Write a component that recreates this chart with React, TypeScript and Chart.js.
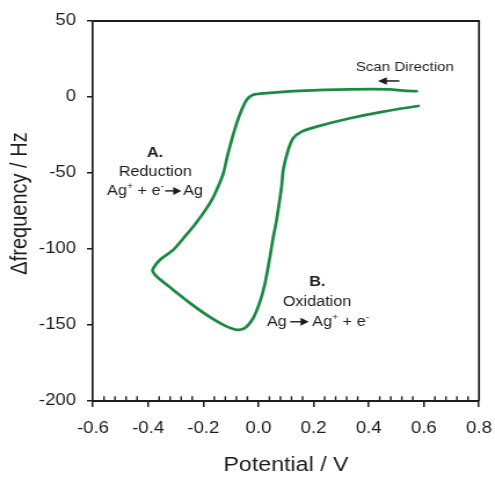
import React, { useEffect, useRef } from 'react';
import { Chart, registerables } from 'chart.js';

Chart.register(...registerables);

// ---- data ----
const potential = [
  0.574, 0.524, 0.477, 0.332, 0.151, 0.03, -0.019, -0.043, -0.061, -0.079, -0.097, -0.113,
  -0.127, -0.146, -0.169, -0.2, -0.236, -0.272, -0.309, -0.357, -0.381, -0.383, -0.369,
  -0.309, -0.248, -0.188, -0.127, -0.079, -0.049, -0.019, 0.006, 0.024, 0.042, 0.052,
  0.066, 0.084, 0.09, 0.108, 0.126, 0.157, 0.211, 0.332, 0.453, 0.58,
];
const frequency = [
  3.8, 4.2, 5.0, 5.0, 4.0, 2.5, 1.5, -1.9, -8.5, -17.3, -28.2, -39.2,
  -50.1, -58.9, -67.7, -76.4, -85.2, -92.9, -100.6, -107.1, -112.6, -114.8, -118.1,
  -126.9, -135.6, -143.3, -149.9, -153.2, -152, -145.5, -134.5, -122.5, -105, -94,
  -80.8, -58.9, -48, -34.8, -27.1, -22.8, -19.5, -14, -9.6, -5.9,
];
const xTickValues = [-0.6, -0.4, -0.2, 0, 0.2, 0.4, 0.6, 0.8];
const yTickValues = [-200, -150, -100, -50, 0, 50];
const xMinorPerMajor = 4;

const xTitle = 'Potential / V';
const yTitle = '\u0394frequency / Hz';

// ---- styling ----
const CSS_W = 495;
const CSS_H = 477;
const CANVAS_W = 427; // drawn narrower, then stretched horizontally like the reference
const FONT = '"Liberation Sans", Arial, Helvetica, sans-serif';
const INK = '#1c1c1c';
const GREEN = '#1a8a42';

type Seg = { t?: string; sup?: boolean; arrow?: number; gap?: number };

const annotations: { segs: Seg[]; x: number; y: number; size: number; bold?: boolean }[] = [
  { segs: [{ t: 'Scan Direction' }], x: 0.531, y: 17.1, size: 13 },
  { segs: [{ t: 'A.' }], x: -0.375, y: -39.6, size: 14, bold: true },
  { segs: [{ t: 'Reduction' }], x: -0.374, y: -51.9, size: 14 },
  {
    segs: [{ t: 'Ag' }, { t: '+', sup: true }, { t: ' + e' }, { t: '-', sup: true }, { gap: 1 }, { arrow: 14 }, { gap: 1.5 }, { t: 'Ag' }],
    x: -0.375, y: -64.4, size: 14,
  },
  { segs: [{ t: 'B.' }], x: 0.2136, y: -124.2, size: 14, bold: true },
  { segs: [{ t: 'Oxidation' }], x: 0.2125, y: -137.2, size: 14 },
  {
    segs: [{ t: 'Ag' }, { gap: 3 }, { arrow: 16 }, { gap: 3 }, { t: 'Ag' }, { t: '+', sup: true }, { t: ' + e' }, { t: '-', sup: true }],
    x: 0.216, y: -150.5, size: 14,
  },
];

function drawArrow(ctx: CanvasRenderingContext2D, x0: number, x1: number, y: number, head: number, half: number, lw: number) {
  const dir = Math.sign(x1 - x0);
  ctx.save();
  ctx.strokeStyle = INK;
  ctx.fillStyle = INK;
  ctx.lineWidth = lw;
  ctx.beginPath();
  ctx.moveTo(x0, y);
  ctx.lineTo(x1 - dir * head * 0.8, y);
  ctx.stroke();
  ctx.beginPath();
  ctx.moveTo(x1, y);
  ctx.lineTo(x1 - dir * head, y - half);
  ctx.lineTo(x1 - dir * head, y + half);
  ctx.closePath();
  ctx.fill();
  ctx.restore();
}

function drawRich(ctx: CanvasRenderingContext2D, segs: Seg[], cx: number, by: number, size: number, bold?: boolean) {
  const supSize = Math.round(size * 0.64);
  const f = (s: number) => `${bold ? 'bold ' : ''}${s}px ${FONT}`;
  const widths = segs.map((s) => {
    if (s.arrow) return s.arrow;
    if (s.gap) return s.gap;
    ctx.font = f(s.sup ? supSize : size);
    return ctx.measureText(s.t || '').width;
  });
  const total = widths.reduce((a, b) => a + b, 0);
  let x = cx - total / 2;
  ctx.fillStyle = INK;
  ctx.textAlign = 'left';
  ctx.textBaseline = 'alphabetic';
  segs.forEach((s, i) => {
    if (s.arrow) {
      drawArrow(ctx, x, x + s.arrow, by - 4, 7, 4, 1.4);
    } else if (s.t) {
      ctx.font = f(s.sup ? supSize : size);
      ctx.fillText(s.t, x, s.sup ? by - 5.5 : by);
    }
    x += widths[i];
  });
}

const overlayPlugin = {
  id: 'overlay',
  afterDraw(chart: any) {
    const { ctx, chartArea: a, scales } = chart;
    const xs = scales.x;
    const ys = scales.y;
    ctx.save();
    // top & right frame
    ctx.strokeStyle = INK;
    ctx.lineWidth = 2;
    ctx.beginPath();
    ctx.moveTo(a.left, a.top);
    ctx.lineTo(a.right + 0.85, a.top);
    ctx.stroke();
    ctx.lineWidth = 1.7;
    ctx.beginPath();
    ctx.moveTo(a.right, a.top);
    ctx.lineTo(a.right, a.bottom);
    ctx.stroke();
    // minor ticks (inside, upward)
    ctx.lineWidth = 1.4;
    for (let i = 0; i < xTickValues.length - 1; i++) {
      const v0 = xTickValues[i];
      const v1 = xTickValues[i + 1];
      for (let k = 1; k <= xMinorPerMajor; k++) {
        const v = v0 + ((v1 - v0) * k) / (xMinorPerMajor + 1);
        const px = xs.getPixelForValue(v);
        ctx.beginPath();
        ctx.moveTo(px, a.bottom);
        ctx.lineTo(px, a.bottom - 4.7);
        ctx.stroke();
      }
    }
    // y title
    ctx.save();
    ctx.translate(22.7, 203.5);
    ctx.rotate(-Math.PI / 2);
    ctx.font = `20px ${FONT}`;
    ctx.fillStyle = INK;
    ctx.textAlign = 'center';
    ctx.textBaseline = 'alphabetic';
    ctx.fillText(yTitle, 0, 0);
    ctx.restore();
    // annotations
    annotations.forEach((an) => {
      drawRich(ctx, an.segs, xs.getPixelForValue(an.x), ys.getPixelForValue(an.y), an.size, an.bold);
    });
    // scan direction arrow
    drawArrow(ctx, xs.getPixelForValue(0.511), xs.getPixelForValue(0.433), ys.getPixelForValue(10.55), 7.8, 3.7, 1.5);
    ctx.restore();
  },
};

const fmtX = (v: number) => (Math.abs(v) < 1e-9 ? '0.0' : v.toFixed(1));

export default function App() {
  const ref = useRef<HTMLCanvasElement | null>(null);
  useEffect(() => {
    if (!ref.current) return;
    const points = potential.map((x, i) => ({ x, y: frequency[i] }));
    const chart = new Chart(ref.current, {
      type: 'scatter',
      data: {
        datasets: [
          {
            data: points,
            showLine: true,
            borderColor: GREEN,
            backgroundColor: GREEN,
            borderWidth: 2.7,
            pointRadius: 0,
            tension: 0.25,
            borderCapStyle: 'round',
            borderJoinStyle: 'round',
          } as any,
        ],
      },
      options: {
        responsive: false,
        maintainAspectRatio: false,
        animation: false,
        devicePixelRatio: 1,
        layout: { padding: { top: 21, right: 13.8, left: 0, bottom: 0 } },
        plugins: { legend: { display: false }, tooltip: { enabled: false } },
        scales: {
          x: {
            type: 'linear',
            min: -0.6,
            max: 0.8,
            afterFit: (s: any) => { s.height = 76; s.paddingLeft = 0; s.paddingRight = 0; },
            afterBuildTicks: (s: any) => { s.ticks = xTickValues.map((value) => ({ value })); },
            ticks: {
              autoSkip: false,
              maxRotation: 0,
              padding: 12,
              color: INK,
              font: { family: FONT, size: 16 },
              callback: (v: any) => fmtX(Number(v)),
            },
            grid: { display: true, drawOnChartArea: false, drawTicks: true, tickLength: 6, color: INK, lineWidth: 1.5 },
            border: { display: true, color: INK, width: 2 },
            title: { display: true, text: xTitle, color: INK, font: { family: FONT, size: 20 }, padding: { top: 0, bottom: 0 } },
          },
          y: {
            type: 'linear',
            min: -200,
            max: 50,
            afterFit: (s: any) => { s.width = 80.2; s.paddingTop = 0; s.paddingBottom = 0; },
            afterBuildTicks: (s: any) => { s.ticks = yTickValues.map((value) => ({ value })); },
            ticks: {
              autoSkip: false,
              padding: 9.4,
              color: INK,
              font: { family: FONT, size: 16 },
              callback: (v: any) => String(v),
            },
            grid: { display: true, drawOnChartArea: false, drawTicks: true, tickLength: 5.2, color: INK, lineWidth: 1.5 },
            border: { display: true, color: INK, width: 1.7 },
          },
        },
      },
      plugins: [overlayPlugin],
    });
    return () => chart.destroy();
  }, []);
  return (
    <div style={{ position: 'absolute', left: 0, top: 0, width: CSS_W, height: CSS_H, background: '#fff' }}>
      <canvas
        ref={ref}
        width={CANVAS_W}
        height={CSS_H}
        style={{ display: 'block', width: `${CSS_W}px`, height: `${CSS_H}px` }}
      />
    </div>
  );
}
